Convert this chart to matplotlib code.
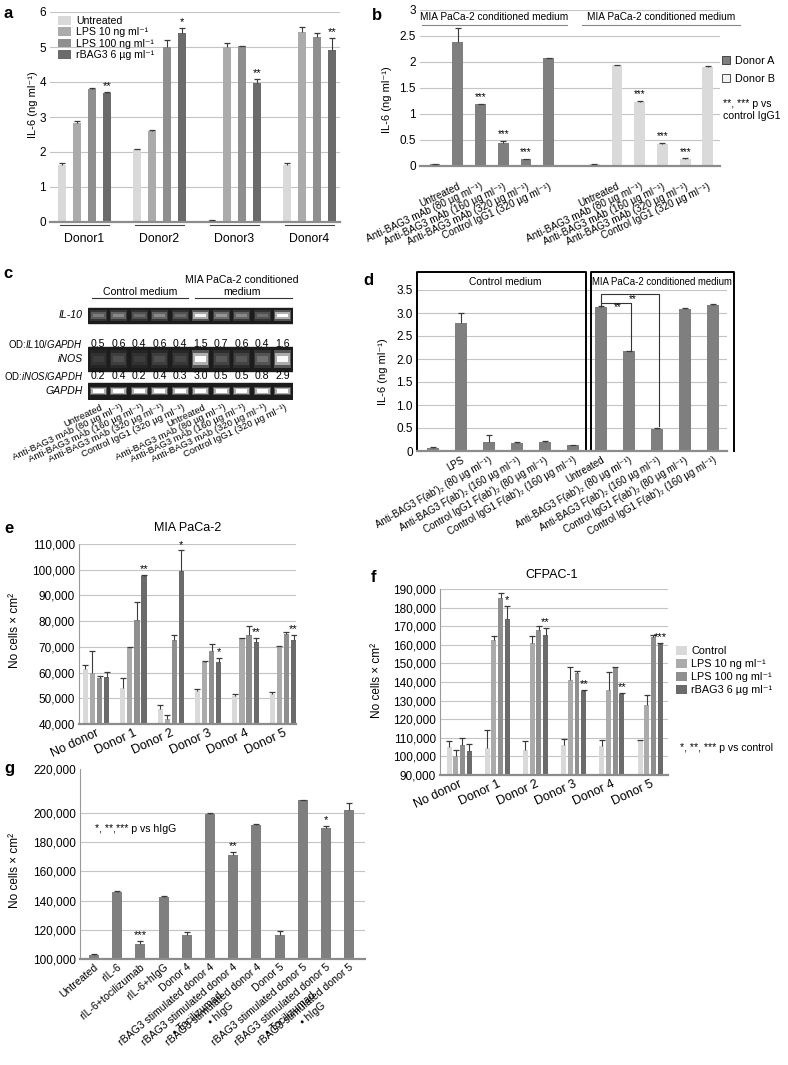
import numpy as np
import matplotlib
matplotlib.use("Agg")
import matplotlib.pyplot as plt
from matplotlib.patches import Patch, Rectangle
from matplotlib.lines import Line2D
from matplotlib.transforms import ScaledTranslation

plt.rcParams['font.family'] = ['Liberation Sans', 'DejaVu Sans']
plt.rcParams['font.size'] = 8
plt.rcParams['mathtext.fontset'] = 'custom'
plt.rcParams['mathtext.rm'] = 'Liberation Sans'
plt.rcParams['mathtext.it'] = 'Liberation Sans:italic'

W, H = 788, 1065

# ---------------- data ----------------
# a: IL-6 by donor
a_groups = ['Donor1', 'Donor2', 'Donor3', 'Donor4']
a_series = ['Untreated', 'LPS 10 ng ml⁻¹', 'LPS 100 ng ml⁻¹', 'rBAG3 6 µg ml⁻¹']
a_vals = [[1.62, 2.08, 0.05, 1.63],
          [2.83, 2.60, 5.00, 5.43],
          [3.80, 5.00, 5.03, 5.28],
          [3.68, 5.40, 3.97, 4.90]]
a_err = [[0.07, 0.00, 0.00, 0.06],
         [0.06, 0.02, 0.12, 0.13],
         [0.02, 0.20, 0.01, 0.13],
         [0.02, 0.15, 0.12, 0.35]]
a_stars = ['**', '*', '**', '**']

# b: anti-BAG3 mAb, two donors
b_labels = ['Untreated', 'Anti-BAG3 mAb (80 µg ml⁻¹)', 'Anti-BAG3 mAb (160 µg ml⁻¹)',
            'Anti-BAG3 mAb (320 µg ml⁻¹)', 'Control IgG1 (320 µg ml⁻¹)']
b_donor_a = [0.03, 2.38, 1.19, 0.45, 0.13, 2.07]
b_err_a = [0.01, 0.27, 0.01, 0.03, 0.01, 0.01]
b_donor_b = [0.03, 1.94, 1.23, 0.42, 0.13, 1.91]
b_err_b = [0.005, 0.01, 0.02, 0.02, 0.02, 0.01]
b_stars = ['', '', '***', '***', '***', '']

# c: RT-PCR densitometry
c_lanes = ['Untreated', 'Anti-BAG3 mAb (80 µg ml⁻¹)', 'Anti-BAG3 mAb (160 µg ml⁻¹)',
           'Anti-BAG3 mAb (320 µg ml⁻¹)', 'Control IgG1 (320 µg ml⁻¹)'] * 2
c_il10 = [0.5, 0.6, 0.4, 0.6, 0.4, 1.5, 0.7, 0.6, 0.4, 1.6]
c_inos = [0.2, 0.4, 0.2, 0.4, 0.3, 3.0, 0.5, 0.5, 0.8, 2.9]
c_gapdh = [1.0, 1.0, 1.0, 1.0, 1.0, 1.0, 1.0, 1.0, 1.0, 1.0]

# d: F(ab')2 fragments
d_labels = ['LPS', "Anti-BAG3 F(ab')₂ (80 µg ml⁻¹)", "Anti-BAG3 F(ab')₂ (160 µg ml⁻¹)",
            "Control IgG1 F(ab')₂ (80 µg ml⁻¹)", "Control IgG1 F(ab')₂ (160 µg ml⁻¹)",
            'Untreated', "Anti-BAG3 F(ab')₂ (80 µg ml⁻¹)", "Anti-BAG3 F(ab')₂ (160 µg ml⁻¹)",
            "Control IgG1 F(ab')₂ (80 µg ml⁻¹)", "Control IgG1 F(ab')₂ (160 µg ml⁻¹)"]
d_vals = [0.07, 2.78, 0.20, 0.18, 0.20, 0.12, 3.13, 2.17, 0.47, 3.09, 3.17]
d_err = [0.01, 0.22, 0.15, 0.02, 0.01, 0.01, 0.03, 0.01, 0.02, 0.02, 0.03]

# e / f: cell growth
ef_groups = ['No donor', 'Donor 1', 'Donor 2', 'Donor 3', 'Donor 4', 'Donor 5']
ef_series = ['Control', 'LPS 10 ng ml⁻¹', 'LPS 100 ng ml⁻¹', 'rBAG3 6 µg ml⁻¹']
e_vals = [[61500, 54000, 46000, 53000, 51000, 51800],
          [60000, 70000, 42000, 64000, 73500, 70500],
          [58000, 80500, 72500, 68500, 74500, 75000],
          [58400, 97500, 99500, 64000, 71800, 72500]]
e_err = [[1300, 4000, 1200, 600, 500, 500],
         [8200, 0, 1500, 600, 0, 0],
         [600, 7000, 2000, 2500, 3500, 800],
         [1800, 500, 8000, 1800, 1800, 2300]]
e_stars = ['', '**', '*', '*', '**', '**']

f_vals = [[105000, 104700, 103300, 106200, 105800, 108600],
          [100000, 162800, 161000, 141000, 135500, 127500],
          [106000, 185200, 168000, 145000, 147800, 164000],
          [103000, 173800, 165300, 135300, 133400, 160500]]
f_err = [[3400, 9500, 5000, 3000, 3000, 400],
         [3300, 2000, 3500, 7000, 10000, 5500],
         [4000, 2800, 2300, 800, 400, 1500],
         [3700, 7000, 3800, 300, 600, 300]]
f_stars = ['', '*', '**', '**', '**', '***']

# g: IL-6 blocking
g_labels = ['Untreated', 'rIL-6', 'rIL-6+tocilizumab', 'rIL-6+hIgG', 'Donor 4',
            'rBAG3 stimulated donor 4', 'rBAG3 stimulated donor 4\n• Tocilizumad',
            'rBAG3 stimulated donor 4\n• hIgG', 'Donor 5', 'rBAG3 stimulated donor 5',
            'rBAG3 stimulated donor 5\n• Tocilizumad', 'rBAG3 stimulated donor 5\n• hIgG']
g_vals = [102500, 146000, 110000, 142500, 116500, 199500, 171500, 192000, 116500, 208500, 189500, 202000]
g_err = [800, 300, 2500, 800, 2000, 500, 2000, 300, 2500, 400, 1500, 4500]
g_stars = ['', '', '***', '', '', '', '**', '', '', '', '*', '']

grays4 = ['#d9d9d9', '#ababab', '#8f8f8f', '#6b6b6b']
bar_gray = '#7f7f7f'
ecol = '#3a3a3a'

fig = plt.figure(figsize=(W / 100, H / 100), dpi=100)


def px_axes(x0, y0, x1, y1):
    return fig.add_axes([x0 / W, 1 - y1 / H, (x1 - x0) / W, (y1 - y0) / H])


def ftext(x, y, s, **kw):
    return fig.text(x / W, 1 - y / H, s, **kw)


def fline(xs, ys, **kw):
    fig.add_artist(Line2D([v / W for v in xs], [1 - v / H for v in ys], **kw))


def style(ax, left=False):
    ax.spines['top'].set_visible(False)
    ax.spines['right'].set_visible(False)
    ax.spines['left'].set_visible(left)
    ax.spines['left'].set_color('#999999')
    ax.spines['bottom'].set_color('#8c8c8c')
    ax.spines['bottom'].set_linewidth(1.6)
    ax.yaxis.grid(True, color='#c4c4c4', lw=0.8)
    ax.set_axisbelow(True)
    ax.tick_params(length=0, labelsize=8.5, pad=3)


def rot_labels(ax, labels, rot, size, dx=0, **kw):
    ax.set_xticklabels(labels, rotation=rot, ha='right', va='top',
                       rotation_mode='anchor', fontsize=size, **kw)
    if dx:
        off = ScaledTranslation(dx / 100, 0, fig.dpi_scale_trans)
        for lb in ax.get_xticklabels():
            lb.set_transform(lb.get_transform() + off)


def bars(ax, x, v, e, width, color, **kw):
    # bars with an upper-only error whisker (T shape)
    x = np.asarray(x, dtype=float)
    v = np.asarray(v, dtype=float)
    top = v + np.asarray(e, dtype=float)
    ax.bar(x, v, width=width, color=color, **kw)
    ax.vlines(x, v, top, color=ecol, lw=0.8, zorder=3)
    ax.plot(x, top, ls='none', marker='_', ms=5, mew=0.9, color=ecol, zorder=3)
    return top


# ---------------- a ----------------
ax = px_axes(50, 12, 340, 222)
style(ax)
xa = np.arange(len(a_groups))
for i in range(4):
    top = bars(ax, xa + (i - 1.5) * 0.2, a_vals[i], a_err[i], 0.1, grays4[i], label=a_series[i])
for j in range(4):
    ax.text(xa[j] + 0.3, top[j] + 0.03, a_stars[j], ha='center', va='bottom', fontsize=8)
    ax.plot([xa[j] - 0.33, xa[j] + 0.33], [-0.012, -0.012], transform=ax.get_xaxis_transform(),
            color='#444444', lw=0.8, clip_on=False)
ax.set_xlim(-0.46, 3.41)
ax.set_ylim(0, 6)
ax.set_yticks(range(7))
ax.set_xticks(xa)
ax.set_xticklabels(a_groups, fontsize=8.8)
ax.tick_params(axis='x', pad=8)
ax.legend(loc='upper left', bbox_to_anchor=(58 / W, 1 - 16 / H), bbox_transform=fig.transFigure,
          frameon=False, fontsize=7.6, handlelength=1.2, handleheight=0.9,
          handletextpad=0.5, labelspacing=0.12, borderpad=0, borderaxespad=0)
ftext(33, 105, 'IL-6 (ng ml⁻¹)', rotation=90, ha='center', va='center', fontsize=8)

# ---------------- b ----------------
ax = px_axes(420, 10, 720, 166)
style(ax)
pa = np.arange(6)
pb = np.arange(7, 13)
ta = bars(ax, pa, b_donor_a, b_err_a, 0.48, bar_gray)
tb = bars(ax, pb, b_donor_b, b_err_b, 0.48, '#dadada')
for k in range(6):
    if b_stars[k]:
        ax.text(pa[k], ta[k] + 0.03, b_stars[k], ha='center', va='bottom', fontsize=7)
        ax.text(pb[k], tb[k] + 0.03, b_stars[k], ha='center', va='bottom', fontsize=7)
ax.set_xlim(-0.66, 12.53)
ax.set_ylim(0, 3)
ax.set_yticks([0, 0.5, 1, 1.5, 2, 2.5, 3])
ax.set_yticklabels(['0', '0.5', '1', '1.5', '2', '2.5', '3'])
ax.set_xticks(list(pa[1:]) + list(pb[1:]))
rot_labels(ax, b_labels * 2, 25, 7.2, dx=8)
ax.tick_params(axis='x', pad=11)
for x0, x1 in [(422, 567), (582, 740)]:
    fline([x0, x1], [25, 25], color='#888888', lw=0.8)
    ftext((x0 + x1) / 2, 17, 'MIA PaCa-2 conditioned medium', ha='center', va='center', fontsize=7.3)
ax.legend(handles=[Patch(facecolor=bar_gray, edgecolor='#333333', lw=0.6),
                   Patch(facecolor='#f2f2f2', edgecolor='#333333', lw=0.6)],
          labels=['Donor A', 'Donor B'], loc='upper left',
          bbox_to_anchor=(722 / W, 1 - 56 / H), bbox_transform=fig.transFigure,
          frameon=False, fontsize=7.8, handlelength=0.7, handleheight=0.7,
          handletextpad=0.5, labelspacing=0.7, borderpad=0, borderaxespad=0)
ftext(723, 99, '**, *** p vs\ncontrol IgG1', ha='left', va='top', fontsize=7.6, linespacing=1.25)
ftext(387, 100, 'IL-6 (ng ml⁻¹)', rotation=90, ha='center', va='center', fontsize=8)

# ---------------- c ----------------
ax = px_axes(88, 272, 293, 400)
ax.set_xlim(-0.5, 9.5)
ax.set_ylim(400, 272)
for s in ax.spines.values():
    s.set_visible(False)
ax.set_yticks([])
ax.tick_params(length=0, pad=2)
lanes = np.arange(10)
strips = [(308, 323, c_il10, 0.45), (347, 371, c_inos, 0.5), (383, 399, c_gapdh, 0.35)]
for top, bot, od, frac in strips:
    h = bot - top
    ax.add_patch(Rectangle((-0.5, top), 10, h, color='#1c1c1c', zorder=1))
    level = (np.array(od) / max(od)) ** 0.75
    mid = top + h / 2
    for lane, lv in zip(lanes, level):
        for wid, hh, a in [(0.85, frac * 1.5, 0.35), (0.75, frac, 0.8), (0.55, frac * 0.55, 1.0)]:
            g = 0.12 + 0.88 * lv * (0.75 if a < 1 else 1.0)
            ax.bar(lane, h * hh, bottom=mid - h * hh / 2, width=wid,
                   color=(g, g, g), alpha=a, zorder=2)
for y, vals in [(344, c_il10), (376, c_inos)]:
    for lane, v in zip(lanes, vals):
        ax.text(lane, y, f'{v:.1f}', ha='center', va='center', fontsize=7.6)
xl = -0.75
ax.text(xl, 315.5, 'IL-10', ha='right', va='center', fontsize=7.6, style='italic')
ax.text(xl, 344, r'OD:$\mathit{IL10/GAPDH}$', ha='right', va='center', fontsize=6.9)
ax.text(xl, 359, 'iNOS', ha='right', va='center', fontsize=7.6, style='italic')
ax.text(xl, 376, r'OD:$\mathit{iNOS/GAPDH}$', ha='right', va='center', fontsize=6.9)
ax.text(xl, 391, 'GAPDH', ha='right', va='center', fontsize=7.6, style='italic')
ax.set_xticks(lanes)
rot_labels(ax, c_lanes, 25, 6.8, dx=2)
ftext(140, 292, 'Control medium', ha='center', va='center', fontsize=7.6)
ftext(242, 286, 'MIA PaCa-2 conditioned\nmedium', ha='center', va='center', fontsize=7.6, linespacing=1.15)
fline([92, 188], [298, 298], color='#333333', lw=0.8)
fline([195, 292], [298, 298], color='#333333', lw=0.8)

# ---------------- d ----------------
ax = px_axes(417, 290, 727, 451)
style(ax)
xd = np.arange(len(d_vals))
bars(ax, xd, d_vals, d_err, 0.4, bar_gray)
ax.set_xlim(-0.57, 10.5)
ax.set_ylim(0, 3.5)
dt = [0, 0.5, 1.0, 1.5, 2.0, 2.5, 3.0, 3.5]
ax.set_yticks(dt)
ax.set_yticklabels(['0'] + [f'{v:.1f}' for v in dt[1:]])
ax.set_xticks(xd[1:])
rot_labels(ax, d_labels, 30, 7.0, dx=7)
ax.tick_params(axis='x', pad=3)
top_box = 3.89
for xs in [(-0.57, -0.57, 5.46, 5.46), (5.64, 5.64, 10.75, 10.75)]:
    ax.plot(xs, [0, top_box, top_box, 0], color='black', lw=1.4, clip_on=False)
ax.plot([6, 6, 7.07, 7.07], [3.16, 3.22, 3.22, 2.2], color='#333333', lw=0.8, clip_on=False)
ax.plot([6, 6, 8.07, 8.07], [3.22, 3.41, 3.41, 0.55], color='#333333', lw=0.8, clip_on=False)
ax.text(6.6, 3.12, '**', ha='center', va='center', fontsize=7)
ax.text(7.15, 3.31, '**', ha='center', va='center', fontsize=7)
ftext(505, 282, 'Control medium', ha='center', va='center', fontsize=7.4)
ftext(662, 282, 'MIA PaCa-2 conditioned medium', ha='center', va='center', fontsize=6.9)
ftext(383, 372, 'IL-6 (ng ml⁻¹)', rotation=90, ha='center', va='center', fontsize=8)


# ---------------- e / f ----------------
def growth(ax, vals, errs, stars, step, wid):
    xg = np.arange(len(ef_groups))
    span = ax.get_ylim()
    for i in range(4):
        top = bars(ax, xg + (i - 1.5) * step, vals[i], errs[i], wid, grays4[i], label=ef_series[i])
    for j in range(len(xg)):
        if stars[j]:
            ax.text(xg[j] + 1.5 * step, top[j] + (span[1] - span[0]) * 0.004, stars[j],
                    ha='center', va='bottom', fontsize=8)
    ax.set_xticks(xg)
    rot_labels(ax, ef_groups, 25, 9, dx=3)
    ax.tick_params(axis='x', pad=2)


ax = px_axes(79, 544, 296, 724)
style(ax, left=True)
ax.set_ylim(40000, 110000)
ax.set_xlim(-0.455, 5.35)
growth(ax, e_vals, e_err, e_stars, 0.19, 0.14)
ax.set_yticks(range(40000, 110001, 10000))
ax.set_yticklabels([f'{v:,}' for v in range(40000, 110001, 10000)])
ftext(188, 528, 'MIA PaCa-2', ha='center', va='center', fontsize=9)
ftext(15, 630, 'No cells × cm²', rotation=90, ha='center', va='center', fontsize=8.5)

ax = px_axes(440, 589, 668, 775)
style(ax, left=True)
ax.set_ylim(90000, 190000)
ax.set_xlim(-0.5, 5.47)
growth(ax, f_vals, f_err, f_stars, 0.175, 0.13)
ax.set_yticks(range(90000, 190001, 10000))
ax.set_yticklabels([f'{v:,}' for v in range(90000, 190001, 10000)])
ax.legend(loc='upper left', bbox_to_anchor=(676 / W, 1 - 646 / H), bbox_transform=fig.transFigure,
          frameon=False, fontsize=7.8, handlelength=1.0, handleheight=0.9,
          handletextpad=0.4, labelspacing=0.25, borderpad=0, borderaxespad=0)
ftext(680, 748, '*, **, *** p vs control', ha='left', va='center', fontsize=7.6)
ftext(552, 575, 'CFPAC-1', ha='center', va='center', fontsize=9)
ftext(377, 680, 'No cells × cm²', rotation=90, ha='center', va='center', fontsize=8.5)

# ---------------- g ----------------
ax = px_axes(80, 769, 365, 959)
style(ax, left=True)
ax.yaxis.grid(False)
xg = np.arange(len(g_vals))
tg = bars(ax, xg, g_vals, g_err, 0.43, bar_gray)
for k in range(len(xg)):
    if g_stars[k]:
        ax.text(xg[k], tg[k] + 500, g_stars[k], ha='center', va='bottom', fontsize=8)
ax.set_xlim(-0.6, 11.68)
ax.set_ylim(100000, 230000)
g_grid = list(range(100000, 200001, 20000))
for v in g_grid[1:]:
    ax.axhline(v, color='#c4c4c4', lw=0.8, zorder=0)
ax.set_yticks(g_grid + [230000])
ax.set_yticklabels([f'{v:,}' for v in g_grid] + ['220,000'])
ax.set_xticks(xg)
rot_labels(ax, g_labels, 40, 7.6, dx=3, multialignment='center')
ax.tick_params(axis='x', pad=2)
ftext(95, 829, '*, **,*** p vs hIgG', ha='left', va='center', fontsize=7.6)
ftext(15, 870, 'No cells × cm²', rotation=90, ha='center', va='center', fontsize=8.5)

# panel letters
for lt, x, y in [('a', 4, 14), ('b', 372, 15), ('c', 3, 274), ('d', 363, 281),
                 ('e', 4, 529), ('f', 371, 578), ('g', 4, 769)]:
    ftext(x, y, lt, ha='left', va='center', fontsize=12, fontweight='bold')

fig.savefig('out.png', dpi=100)
